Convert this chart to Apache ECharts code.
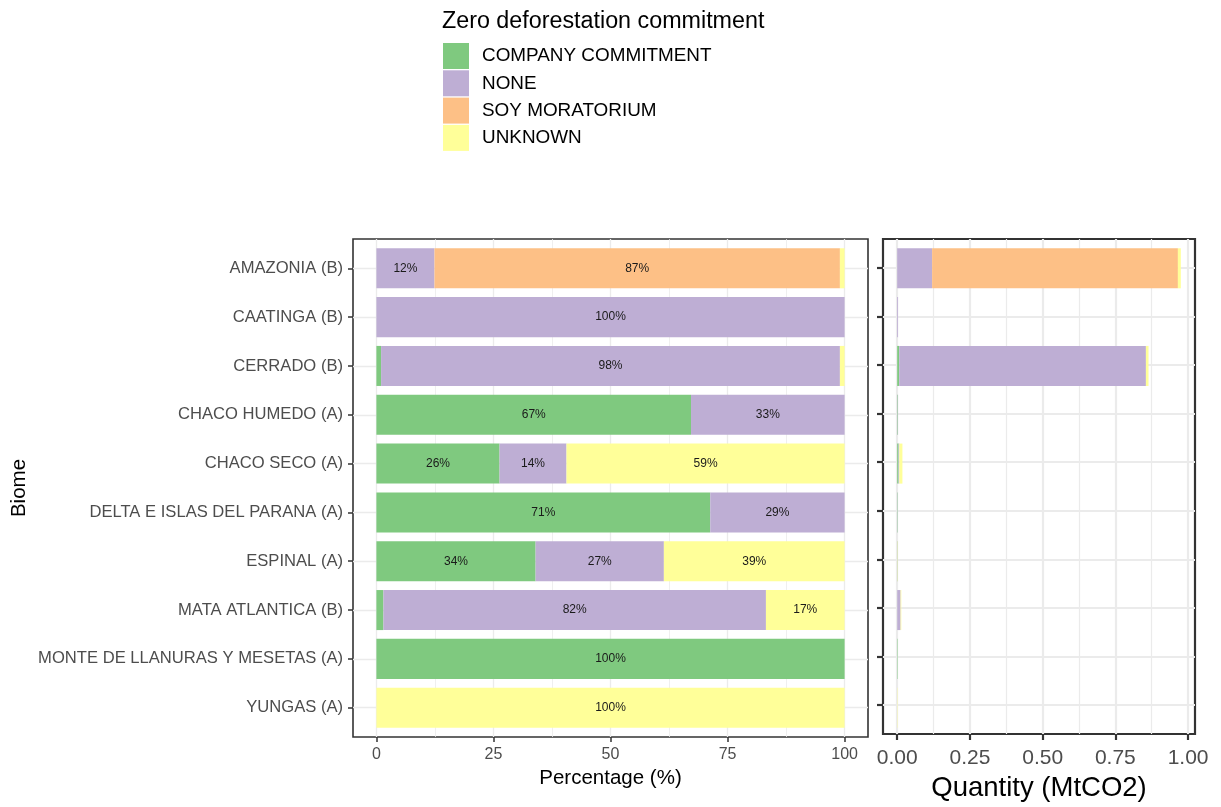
<!DOCTYPE html>
<html>
<head>
<meta charset="utf-8">
<title>Zero deforestation commitment by biome</title>
<script src="https://cdn.jsdelivr.net/npm/echarts@6/dist/echarts.min.js"></script>
<style>
  html, body { margin: 0; padding: 0; background: #ffffff; }
  #chart { width: 1221px; height: 807px; }
</style>
</head>
<body>
<div id="chart"></div>
<script>
// Biomes, top to bottom
const biomes = [
  'AMAZONIA (B)', 'CAATINGA (B)', 'CERRADO (B)', 'CHACO HUMEDO (A)', 'CHACO SECO (A)',
  'DELTA E ISLAS DEL PARANA (A)', 'ESPINAL (A)', 'MATA ATLANTICA (B)',
  'MONTE DE LLANURAS Y MESETAS (A)', 'YUNGAS (A)'
];

const commitments = ['COMPANY COMMITMENT', 'NONE', 'SOY MORATORIUM', 'UNKNOWN'];
const commitmentColors = ['#7FC97F', '#BEAED4', '#FDC086', '#FFFF99'];

// Share of emissions by commitment (%)
const pctCompany = [0, 0, 1.0, 67.2, 26.3, 71.3, 34.0, 1.5, 100, 0];
const pctNone    = [12.4, 100, 98.0, 32.8, 14.3, 28.7, 27.4, 81.7, 0, 0];
const pctSoy     = [86.6, 0, 0, 0, 0, 0, 0, 0, 0, 0];
const pctUnknown = [1.0, 0, 1.0, 0, 59.4, 0, 38.6, 16.8, 0, 100];

// Emissions by commitment (MtCO2)
const qtyCompany = [0, 0, 0.007, 0.002, 0.0047, 0.0014, 0.0008, 0.0002, 0.0015, 0];
const qtyNone    = [0.12, 0.003, 0.848, 0.001, 0.0026, 0.0006, 0.0006, 0.0115, 0, 0];
const qtySoy     = [0.845, 0, 0, 0, 0, 0, 0, 0, 0, 0];
const qtyUnknown = [0.01, 0, 0.009, 0, 0.0107, 0, 0.0009, 0.0024, 0, 0.0012];

// Axis ticks
const pctTicks = [0, 25, 50, 75, 100];
const pctMinor = [12.5, 37.5, 62.5, 87.5];
const qtyTicks = [0, 0.25, 0.5, 0.75, 1.0];
const qtyMinor = [0.125, 0.375, 0.625, 0.875];

const pctSeries = [pctCompany, pctNone, pctSoy, pctUnknown];
const qtySeries = [qtyCompany, qtyNone, qtySoy, qtyUnknown];

// Panel geometry
const panelTop = 239, panelHeight = 498;
const leftPanel = { left: 353, width: 515 };
const rightPanel = { left: 883, width: 312 };
const band = panelHeight / (biomes.length + 0.2);   // 0.6 band padding on each end
const barTop = panelTop + 0.1 * band;
const barHeight = band * biomes.length;

// x ranges padded by 5% on each side
const pctMax = 100;
const qtyMax = Math.max(...biomes.map((_, i) => qtySeries.reduce((s, a) => s + a[i], 0)));
const pctRange = [-0.05 * pctMax, 1.05 * pctMax];
const qtyRange = [-0.05 * qtyMax, 1.05 * qtyMax];

const fontFamily = '"Liberation Sans", Helvetica, Arial, sans-serif';
const gridColor = '#EBEBEB';
const darkLine = '#333333';
const tickText = '#4D4D4D';

const yIdx = biomes.map((_, i) => i);
const hiddenLine = { show: false, onZero: false };

const option = {
  animation: false,
  backgroundColor: '#ffffff',
  textStyle: { fontFamily },
  title: {
    text: 'Zero deforestation commitment',
    left: 442, top: 10, padding: 0,
    textStyle: { fontSize: 23.3, fontWeight: 'normal', color: '#000000', fontFamily }
  },
  legend: {
    data: commitments,
    orient: 'vertical',
    left: 443, top: 43, padding: 0,
    itemWidth: 26, itemHeight: 26, itemGap: 1.3,
    icon: 'rect',
    selectedMode: false,
    textStyle: { fontSize: 18.9, color: '#000000', padding: [0, 0, 0, 8], fontFamily }
  },
  grid: [
    // panel frames with grid lines and ticks
    { left: leftPanel.left, width: leftPanel.width, top: panelTop, height: panelHeight,
      show: true, borderColor: darkLine, borderWidth: 1.6, backgroundColor: 'transparent' },
    { left: rightPanel.left, width: rightPanel.width, top: panelTop, height: panelHeight,
      show: true, borderColor: darkLine, borderWidth: 2.2, backgroundColor: 'transparent' },
    // bar areas
    { left: leftPanel.left, width: leftPanel.width, top: barTop, height: barHeight },
    { left: rightPanel.left, width: rightPanel.width, top: barTop, height: barHeight }
  ],
  xAxis: [
    // 0: left panel major
    { type: 'value', gridIndex: 0, min: pctRange[0], max: pctRange[1], position: 'bottom',
      name: 'Percentage (%)', nameLocation: 'middle', nameGap: 26,
      nameTextStyle: { fontSize: 20.5, color: '#000000' },
      axisLine: hiddenLine,
      axisTick: { show: true, length: 5, customValues: pctTicks, lineStyle: { color: darkLine, width: 1.5 } },
      axisLabel: { customValues: pctTicks, margin: 10, fontSize: 16, color: tickText },
      splitLine: { show: true, lineStyle: { color: gridColor, width: 1.3 } } },
    // 1: left panel minor lines
    { type: 'value', gridIndex: 0, min: pctRange[0], max: pctRange[1], position: 'top',
      axisLine: hiddenLine, axisLabel: { show: false },
      axisTick: { show: false, customValues: pctMinor },
      splitLine: { show: true, lineStyle: { color: gridColor, width: 0.8 } } },
    // 2: right panel major
    { type: 'value', gridIndex: 1, min: qtyRange[0], max: qtyRange[1], position: 'bottom',
      name: 'Quantity (MtCO2)', nameLocation: 'middle', nameGap: 40,
      nameTextStyle: { fontSize: 27.5, color: '#000000' },
      axisLine: hiddenLine,
      axisTick: { show: true, length: 6, customValues: qtyTicks, lineStyle: { color: darkLine, width: 2.2 } },
      axisLabel: { customValues: qtyTicks, margin: 14, fontSize: 21, color: tickText,
                   formatter: v => v.toFixed(2) },
      splitLine: { show: true, lineStyle: { color: gridColor, width: 2.2 } } },
    // 3: right panel minor lines
    { type: 'value', gridIndex: 1, min: qtyRange[0], max: qtyRange[1], position: 'top',
      axisLine: hiddenLine, axisLabel: { show: false },
      axisTick: { show: false, customValues: qtyMinor },
      splitLine: { show: true, lineStyle: { color: gridColor, width: 1.2 } } },
    // 4, 5: bar scales
    { type: 'value', gridIndex: 2, min: pctRange[0], max: pctRange[1], show: false },
    { type: 'value', gridIndex: 3, min: qtyRange[0], max: qtyRange[1], show: false }
  ],
  yAxis: [
    // 0: left panel biome ticks and labels
    { type: 'value', gridIndex: 0, inverse: true, min: -0.6, max: biomes.length - 1 + 0.6,
      position: 'left',
      name: 'Biome', nameLocation: 'middle', nameGap: 323,
      nameTextStyle: { fontSize: 20.5, color: '#000000' },
      axisLine: hiddenLine,
      axisTick: { show: true, length: 5, customValues: yIdx, lineStyle: { color: darkLine, width: 1.5 } },
      axisLabel: { customValues: yIdx, margin: 10, fontSize: 16.6, color: tickText,
                   formatter: v => biomes[Math.round(v)] },
      splitLine: { show: true, lineStyle: { color: gridColor, width: 1.3 } } },
    // 1: right panel ticks (no labels)
    { type: 'value', gridIndex: 1, inverse: true, min: -0.6, max: biomes.length - 1 + 0.6,
      position: 'left',
      axisLine: hiddenLine,
      axisTick: { show: true, length: 6, customValues: yIdx, lineStyle: { color: darkLine, width: 2.2 } },
      axisLabel: { show: false, customValues: yIdx },
      splitLine: { show: true, lineStyle: { color: gridColor, width: 2.2 } } },
    // 2, 3: bar categories
    { type: 'category', gridIndex: 2, data: biomes, inverse: true, show: false },
    { type: 'category', gridIndex: 3, data: biomes, inverse: true, show: false }
  ],
  series: [
    ...commitments.map((name, k) => ({
      name, type: 'bar', stack: 'pct',
      xAxisIndex: 4, yAxisIndex: 2,
      data: pctSeries[k],
      barWidth: '82%',
      itemStyle: { color: commitmentColors[k] },
      label: {
        show: true, position: 'inside', fontSize: 12, color: '#1A1A1A',
        formatter: p => (p.value >= 5 ? Math.round(p.value) + '%' : '')
      }
    })),
    ...commitments.map((name, k) => ({
      name, type: 'bar', stack: 'qty',
      xAxisIndex: 5, yAxisIndex: 3,
      data: qtySeries[k],
      barWidth: '82%',
      itemStyle: { color: commitmentColors[k] }
    }))
  ]
};

const chart = echarts.init(document.getElementById('chart'), null, { renderer: 'canvas' });
chart.setOption(option);
</script>
</body>
</html>
